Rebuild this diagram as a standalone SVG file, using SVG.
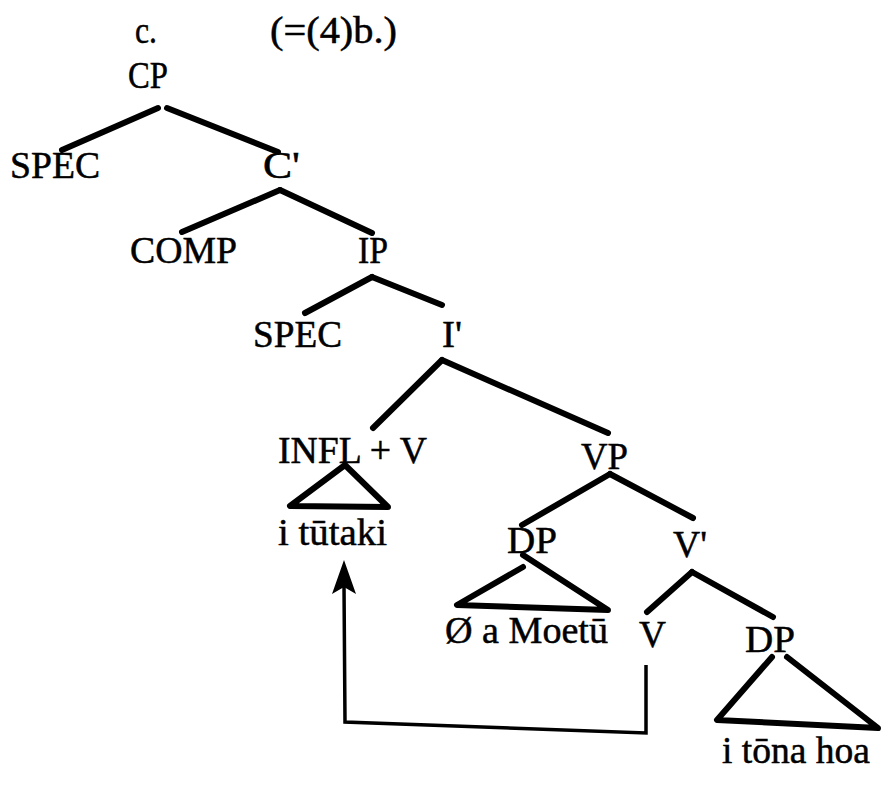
<svg xmlns="http://www.w3.org/2000/svg" width="890" height="787" viewBox="0 0 890 787">
<defs>
<style>
text{font-family:"Liberation Serif","Times New Roman",serif;font-size:38px;fill:#000;stroke:#000;stroke-width:0.5;}
.e{fill:none;stroke:#000;stroke-width:6;stroke-linecap:round;stroke-linejoin:round;}
.mv{fill:none;stroke:#000;stroke-width:3.5;stroke-linejoin:miter;}
.ah{fill:#000;stroke:none;}
</style>
</defs>
<rect width="890" height="787" fill="#fff"/>
<g id="label-c"><text x="135" y="43" textLength="22" lengthAdjust="spacingAndGlyphs">c.</text></g>
<g id="label-ref"><text x="270" y="43" textLength="127" lengthAdjust="spacingAndGlyphs">(=(4)b.)</text></g>
<g id="CP"><text x="128" y="88" textLength="40" lengthAdjust="spacingAndGlyphs">CP</text></g>
<g id="SPEC1"><text x="10" y="178" textLength="90" lengthAdjust="spacingAndGlyphs">SPEC</text></g>
<g id="Cbar"><text x="263" y="178" textLength="37" lengthAdjust="spacingAndGlyphs">C'</text></g>
<g id="COMP"><text x="130" y="263" textLength="107" lengthAdjust="spacingAndGlyphs">COMP</text></g>
<g id="IP"><text x="358" y="263" textLength="30" lengthAdjust="spacingAndGlyphs">IP</text></g>
<g id="SPEC2"><text x="253" y="347" textLength="89" lengthAdjust="spacingAndGlyphs">SPEC</text></g>
<g id="Ibar"><text x="442" y="347" textLength="20" lengthAdjust="spacingAndGlyphs">I'</text></g>
<g id="INFLV"><text x="278" y="463" textLength="149" lengthAdjust="spacingAndGlyphs">INFL + V</text>
<polygon class="e" points="345,465 290,506 388,507"/>
<text x="278" y="545" textLength="109" lengthAdjust="spacingAndGlyphs">i tūtaki</text></g>
<g id="VP"><text x="581" y="469" textLength="47" lengthAdjust="spacingAndGlyphs">VP</text></g>
<g id="DP1"><text x="507" y="553" textLength="50" lengthAdjust="spacingAndGlyphs">DP</text>
<polyline class="e" points="523,567 457,605 608,610 523,555"/>
<text x="445" y="643" textLength="163" lengthAdjust="spacingAndGlyphs">Ø a Moetū</text></g>
<g id="Vbar"><text x="673" y="557" textLength="34" lengthAdjust="spacingAndGlyphs">V'</text></g>
<g id="V"><text x="639" y="647" textLength="27" lengthAdjust="spacingAndGlyphs">V</text></g>
<g id="DP2"><text x="745" y="652" textLength="50" lengthAdjust="spacingAndGlyphs">DP</text>
<polyline class="e" points="772,657 717,720 878,728 787,657"/>
<text x="722" y="763" textLength="148" lengthAdjust="spacingAndGlyphs">i tōna hoa</text></g>
<g id="connectors">
<line class="e" x1="158" y1="108" x2="62" y2="150"/>
<line class="e" x1="167" y1="108" x2="278" y2="152"/>
<line class="e" x1="280" y1="190" x2="182" y2="232"/>
<line class="e" x1="280" y1="190" x2="372" y2="233"/>
<line class="e" x1="372" y1="277" x2="305" y2="313"/>
<line class="e" x1="372" y1="277" x2="442" y2="305"/>
<line class="e" x1="442" y1="360" x2="373" y2="428"/>
<line class="e" x1="442" y1="360" x2="608" y2="433"/>
<line class="e" x1="610" y1="474" x2="522" y2="525"/>
<line class="e" x1="610" y1="474" x2="693" y2="518"/>
<line class="e" x1="692" y1="572" x2="647" y2="612"/>
<line class="e" x1="692" y1="572" x2="773" y2="617"/>
<polyline class="mv" points="646,665 646,733 345,722 344,585"/>
<path class="ah" d="M344,560 L356,594 L344,587 L332,594 Z"/>
</g>
</svg>
